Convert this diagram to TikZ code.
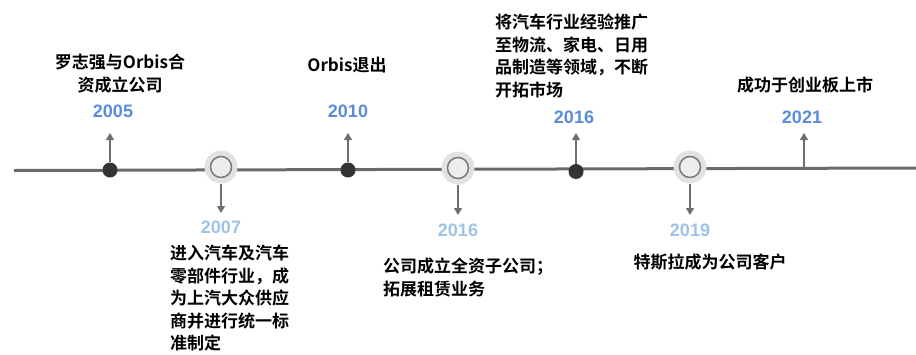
\documentclass[tikz,border=0pt]{standalone}
\usepackage{fontspec}
\setmainfont{Liberation Sans}
\newfontfamily\cjk{Noto Sans CJK SC Bold}
\usetikzlibrary{arrows.meta}
\definecolor{lineg}{HTML}{6A6A6A}
\definecolor{arrowc}{HTML}{6F6F6F}
\definecolor{dotc}{HTML}{333333}
\definecolor{haloc}{HTML}{E2E2E2}
\definecolor{ringfill}{HTML}{EDEDED}
\definecolor{ringc}{HTML}{7A7A7A}
\definecolor{yearblue}{HTML}{5A8CDC}
\definecolor{yearlight}{HTML}{9DC3E6}
\begin{document}
\begin{tikzpicture}[x=1pt,y=-1pt,
  yeartop/.style={font=\fontsize{18}{20}\selectfont\bfseries, text=yearblue, inner sep=0},
  yearbot/.style={font=\fontsize{18}{20}\selectfont\bfseries, text=yearlight, inner sep=0},
  desc/.style={font=\cjk\fontsize{17}{22.5}\selectfont, inner sep=0},
  darkdot/.style={circle, fill=dotc, minimum size=15pt, inner sep=0},
  halo/.style={circle, fill=haloc, minimum size=33pt, inner sep=0},
  ring/.style={circle, fill=ringfill, draw=ringc, line width=1.5pt, minimum size=21pt, inner sep=0},
  conn/.style={draw=arrowc, line width=1.2pt, -{Triangle[width=8pt,length=7pt]}},
  mainline/.style={draw=lineg, line width=3pt}
]
\useasboundingbox (0,0) rectangle (916,354);
% main line
\coordinate (L) at (14,170.5);
\coordinate (R) at (916,168);
\path[mainline] (L) -- (R);
% markers
\node[darkdot] (d2005) at (110,170) {};
\node[darkdot] (d2010) at (348,170) {};
\node[darkdot] (d2016) at (576,171.5) {};
\node[halo] (h2007) at (221,167) {};
\node[ring] (r2007) at (221,167) {};
\node[halo] (h2016) at (458,168) {};
\node[ring] (r2016) at (458,168) {};
\node[halo] (h2019) at (690,167) {};
\node[ring] (r2019) at (690,167) {};
\coordinate (p2021) at (804,168.5);
% arrow ends
\coordinate (t2005) at (110,133);
\coordinate (t2010) at (348,133);
\coordinate (t2016) at (576,133);
\coordinate (t2021) at (804,133);
\coordinate (b2007) at (221,213);
\coordinate (b2016) at (458,215);
\coordinate (b2019) at (690,215);
\draw[conn] (d2005) -- (t2005);
\draw[conn] (d2010) -- (t2010);
\draw[conn] (d2016) -- (t2016);
\draw[conn] (p2021) -- (t2021);
\draw[conn] (h2007) -- (b2007);
\draw[conn] (h2016) -- (b2016);
\draw[conn] (h2019) -- (b2019);
% years
\node[yeartop] (y2005) at (113,111) {2005};
\node[yeartop] (y2010) at (348,111) {2010};
\node[yeartop] (y2016a) at (574,117) {2016};
\node[yeartop] (y2021) at (802,117) {2021};
\node[yearbot] (y2007) at (221,227) {2007};
\node[yearbot] (y2016b) at (458,230) {2016};
\node[yearbot] (y2019) at (690,230) {2019};
% descriptions
\node[desc, align=center, anchor=north] (e2005) at (120,54) {罗志强与Orbis合\\资成立公司};
\node[desc] (e2010) at (347,65) {Orbis退出};
\node[desc, align=left, anchor=north west] (e2016a) at (495,14) {将汽车行业经验推广\\至物流、家电、日用\\品制造等领域，不断\\开拓市场};
\node[desc] (e2021) at (805,85) {成功于创业板上市};
\node[desc, align=left, anchor=north west] (e2007) at (170,245) {进入汽车及汽车\\零部件行业，成\\为上汽大众供应\\商并进行统一标\\准制定};
\node[desc, align=left, anchor=north west] (e2016b) at (383,258) {公司成立全资子公司；\\拓展租赁业务};
\node[desc] (e2019) at (710,262) {特斯拉成为公司客户};
\end{tikzpicture}
\end{document}
